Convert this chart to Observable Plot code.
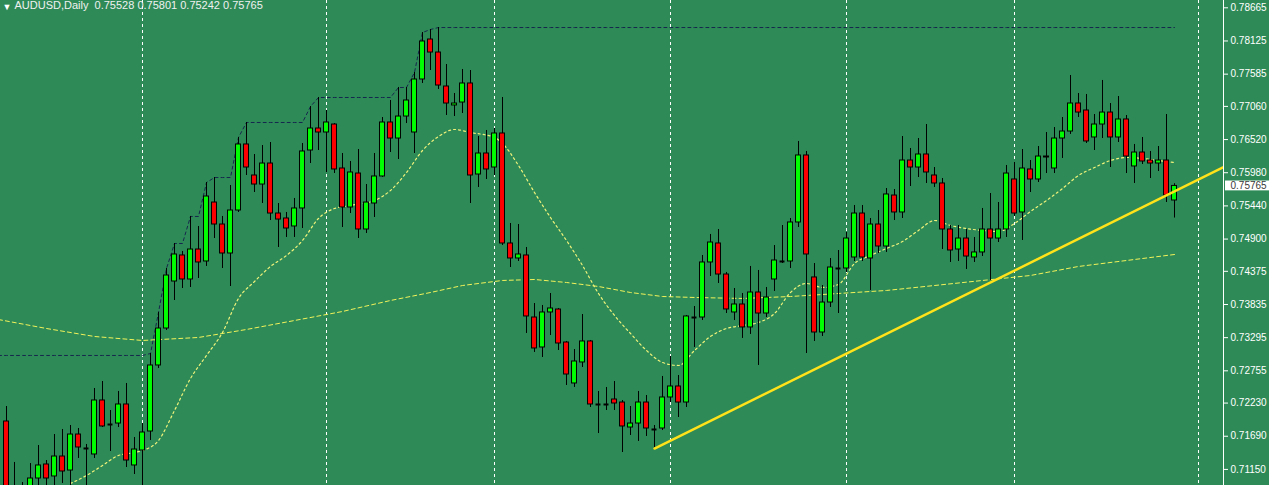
<!DOCTYPE html>
<html>
<head>
<meta charset="utf-8">
<script src="https://cdn.jsdelivr.net/npm/d3@7"></script>
<script src="https://cdn.jsdelivr.net/npm/@observablehq/plot@0.6"></script>
<style>
  html, body { margin: 0; padding: 0; background: #2e8b57; overflow: hidden; }
  svg { display: block; }
</style>
</head>
<body>
<div id="chart"></div>
<script>
// ---- Data ----
const symbolTitle = "AUDUSD,Daily";
const lastBar = [0.75528, 0.75801, 0.75242, 0.75765]; // O H L C shown in the title

const open = [
.71930,.70725,.70807,.70725,.71002,.71230,.71035,.71360,.71132,.71718,
.71491,.71393,.72272,.71881,.71897,.72207,.71214,.71458,.71767,.72842,
.73444,.74209,.74633,.74242,.74730,.74535,.75495,.75137,.74665,.75365,
.76440,.75935,.75788,.76130,.75316,.75235,.75105,.75398,.76342,.76700,
.76635,.76765,.76049,.75414,.75967,.75056,.75479,.75919,.76798,.76537,
.76895,.76635,.77498,.78149,.77937,.77384,.77075,.77123,.77433,.75951,
.76293,.76065,.76619,.74828,.74584,.74633,.73623,.73135,.73705,.73753,
.73216,.72549,.72891,.73233,.72207,.72207,.72288,.72239,.71832,.71897,
.72239,.71800,.71816,.72321,.72500,.72239,.73623,.73623,.74519,.74828,
.74323,.73705,.73835,.73461,.74030,.73688,.74242,.74535,.74535,.75170,
.76261,.74275,.73379,.73867,.74421,.74421,.74600,.75316,.74584,.75137,
.74779,.75609,.75333,.76179,.76065,.76277,.75935,.75805,.75056,.74730,
.74909,.74600,.74682,.75056,.74909,.75056,.75870,.75333,.76033,.75870,
.76244,.76049,.76537,.76651,.77107,.76993,.76554,.76765,.76960,.76554,
.76847,.76082,.76309,.76179,.76130,.76179,.75528];
const high = [
.72174,.71263,.70937,.71246,.71539,.71295,.71718,.71800,.71865,.71816,
.71556,.72467,.72581,.72109,.72419,.72549,.71670,.71897,.73037,.73705,
.74421,.74828,.74698,.75268,.75105,.75821,.75902,.75268,.75772,.76554,
.76798,.76277,.76423,.76472,.75479,.75333,.75561,.76456,.77058,.77205,
.76993,.76781,.76293,.76163,.76358,.75788,.76293,.76879,.77156,.77368,
.77368,.77612,.78263,.78312,.78344,.77742,.77270,.77661,.77644,.76570,
.76668,.76700,.77205,.75154,.75137,.74763,.73851,.73819,.74014,.73770,
.73233,.73102,.73672,.73249,.72419,.72484,.72581,.72272,.72174,.72419,
.72353,.71865,.72663,.72988,.72679,.73656,.73802,.74633,.74975,.75056,
.74356,.74095,.74014,.74454,.74389,.74112,.74795,.75121,.75235,.76489,
.76326,.74502,.74144,.74584,.74714,.75007,.75447,.75447,.75235,.75365,
.75723,.75707,.76570,.76375,.76537,.76765,.76065,.75886,.75121,.75121,
.75056,.74926,.75398,.75642,.75495,.76098,.76147,.76358,.76179,.76407,
.76635,.76716,.76879,.77563,.77270,.77254,.76928,.77482,.77107,.77221,
.76912,.76440,.76554,.76326,.76407,.76928,.75801];
const low = [
.70725,.70644,.70644,.70644,.70807,.70888,.70807,.70921,.70807,.71328,
.70807,.71328,.71832,.71442,.71832,.71181,.71067,.70807,.71621,.72793,
.73412,.73900,.74095,.74112,.74258,.74454,.74909,.74421,.74128,.75333,
.75935,.75658,.75479,.75202,.74763,.74926,.74926,.75072,.76130,.76342,
.75984,.75967,.75088,.75316,.74909,.74991,.75251,.75905,.76309,.76195,
.76781,.76293,.77433,.77644,.77335,.76912,.76895,.76944,.75479,.75740,
.75870,.75935,.74795,.74437,.74535,.73363,.73054,.72972,.73330,.73086,
.72516,.72484,.72809,.72158,.71734,.72109,.72109,.71425,.71702,.71605,
.71686,.71507,.71783,.72239,.71995,.72158,.73135,.73574,.74291,.74177,
.73688,.73574,.73282,.73347,.72842,.73623,.74047,.74502,.74421,.75088,
.73037,.73233,.73314,.73786,.73688,.74356,.74535,.74535,.74063,.74665,
.74682,.75202,.75235,.75756,.75902,.75805,.75740,.74730,.74519,.74535,
.74405,.74519,.74616,.74226,.74844,.74926,.75268,.74877,.75658,.75821,
.75967,.75967,.76212,.76603,.76879,.76456,.76342,.76537,.76065,.76472,
.75967,.75805,.76114,.75886,.76000,.75495,.75242];
const close = [
.70807,.70839,.70725,.71002,.71214,.71002,.71360,.71116,.71718,.71507,
.71491,.72272,.71849,.71881,.72207,.71295,.71474,.71751,.72842,.73444,
.74307,.74649,.74242,.74730,.74519,.75593,.75137,.74665,.75365,.76440,
.76065,.75788,.76130,.75316,.75218,.75072,.75398,.76326,.76700,.76635,
.76798,.76033,.75414,.75984,.75056,.75495,.75919,.76798,.76537,.76895,
.77156,.77498,.78117,.77937,.77400,.77107,.77107,.77433,.75935,.76293,
.76033,.76619,.74828,.74584,.74649,.73640,.73119,.73705,.73770,.73200,
.72695,.72907,.73233,.72207,.72207,.72207,.72223,.71849,.71897,.72239,
.71816,.71800,.72321,.72500,.72239,.73640,.73623,.74519,.74844,.74323,
.73754,.73835,.73461,.74030,.73688,.73949,.74551,.74535,.75170,.76261,
.74649,.73379,.73867,.74437,.74421,.74909,.75316,.74600,.75137,.74779,
.75626,.75333,.76179,.76065,.76277,.75984,.75805,.75056,.74714,.74909,
.74616,.74682,.75056,.74909,.75056,.75967,.75316,.76049,.75870,.76244,
.76228,.76537,.76651,.77107,.76960,.76489,.76765,.76960,.76554,.76847,
.76244,.76309,.76163,.76130,.76179,.75609,.75765];

// highest high before the visible window (start of the dashed upper line)
const priorHigh = 0.73005;

// fast moving average (bar index, value)
const fastIdx = [8,10,12,14,16,17,19,21,23,25,27,29,31,33,35,37,39,41,43,46,48,50,52,54,56,58,61,62,64,66,68,70,72,74,76,78,80,82,84,86,88,90,92,94,96,98,100,102,104,106,108,110,112,114,116,118,120,122,124,126,128,130,132,134,136,138,140,142,144,146];
const fastVal = [.70921,.71051,.71214,.71377,.71425,.71458,.71621,.72109,.72630,.73005,.73379,.73933,.74209,.74454,.74633,.74877,.75235,.75398,.75447,.75528,.75691,.75984,.76342,.76570,.76684,.76635,.76554,.76456,.76098,.75658,.75251,.74877,.74470,.74014,.73656,.73363,.73086,.72891,.72842,.73086,.73314,.73444,.73493,.73542,.73688,.74030,.74177,.74112,.74161,.74502,.74633,.74747,.74860,.75040,.75202,.75121,.75072,.75040,.75023,.75154,.75349,.75528,.75723,.75935,.76065,.76179,.76228,.76212,.76179,.76147];

// slow moving average (bar index, value)
const slowIdx = [-1,5,11,17,24,30,36,42,48,53,57,62,66,70,74,78,82,86,92,98,104,110,116,122,128,134,140,146];
const slowVal = [.73590,.73444,.73314,.73249,.73298,.73428,.73574,.73721,.73900,.74030,.74144,.74226,.74242,.74193,.74128,.74030,.73965,.73949,.73933,.73965,.74014,.74063,.74144,.74226,.74307,.74454,.74551,.74649];

// hand-drawn trend line anchors (bar index, price)
const trendIdx = [81, 153];
const trendVal = [0.71490, 0.76126];

// vertical grid (bar index of period separators)
const gridIdx = [17, 40, 61, 83, 105, 126, 149];

// price axis labels
const priceTicks = [0.78665,0.78125,0.77585,0.77060,0.76520,0.75980,0.75440,0.74900,0.74375,0.73835,0.73295,0.72755,0.72230,0.71690,0.71150];

// ---- Build tables ----
const bars = open.map((o, i) => ({i, o, h: high[i], l: low[i], c: close[i]}));
const bodies = bars.filter(d => Math.abs(d.c - d.o) > 0.00003);
const dojis = bars.filter(d => Math.abs(d.c - d.o) <= 0.00003);
let runMax = priorHigh;
const upper = [{i: -1, v: priorHigh}].concat(bars.map(d => { runMax = Math.max(runMax, d.h); return {i: d.i, v: runMax}; }));
const fast = fastIdx.map((i, k) => ({i, v: fastVal[k]}));
const slow = slowIdx.map((i, k) => ({i, v: slowVal[k]}));
const trend = trendIdx.map((i, k) => ({i, v: trendVal[k]}));

const xMin = -0.75, xMax = 152.125;
const font = "Liberation Sans, Arial, sans-serif";

const chart = Plot.plot({
  width: 1269,
  height: 485,
  marginLeft: 0,
  marginRight: 46,
  marginTop: 0,
  marginBottom: 0,
  style: {background: "#2e8b57", color: "white", fontFamily: font, fontSize: "10px"},
  x: {type: "linear", domain: [xMin, xMax], axis: null},
  y: {domain: [0.70888, 0.78784], axis: "right", ticks: priceTicks, tickFormat: d => d.toFixed(5), tickSize: 4, tickPadding: 3, label: null},
  marks: [
    Plot.ruleX(gridIdx, {stroke: "white", strokeDasharray: "3,3", strokeWidth: 1}),
    Plot.line(slow, {x: "i", y: "v", stroke: "#f2f25a", strokeWidth: 1, strokeDasharray: "4,3", clip: true}),
    Plot.line(fast, {x: "i", y: "v", stroke: "#f0f27a", strokeWidth: 1.2, strokeDasharray: "2,3", curve: "monotone-x", clip: true}),
    Plot.line(upper, {x: "i", y: "v", stroke: "#16264e", strokeWidth: 1, strokeDasharray: "3,3", clip: true}),
    Plot.ruleX(bars, {x: "i", y1: "l", y2: "h", stroke: "black", strokeWidth: 1}),
    Plot.rect(bodies, {x1: d => d.i - 0.31, x2: d => d.i + 0.31, y1: "o", y2: "c",
      fill: d => d.c > d.o ? "#00ff00" : "#ff0000", stroke: "black", strokeWidth: 1}),
    Plot.ruleY(dojis, {x1: d => d.i - 0.31, x2: d => d.i + 0.31, y: "o", stroke: "black", strokeWidth: 2}),
    Plot.line(trend, {x: "i", y: "v", stroke: "#ffe21a", strokeWidth: 2.5, clip: true}),
    Plot.ruleX([xMax], {stroke: "white", strokeWidth: 1}),
    Plot.rect([lastBar[3]], {x1: xMax + 0.25, x2: xMax + 6, y1: d => d - 0.0008, y2: d => d + 0.0008, fill: "white"}),
    Plot.text([lastBar[3]], {x: xMax, y: d => d, text: d => d.toFixed(5), dx: 7, textAnchor: "start", fill: "#3a3a3a", fontSize: 10}),
    Plot.text(["\u25BC"], {frameAnchor: "top-left", dx: 2, dy: 3, fill: "white", fontSize: 9}),
    Plot.text([symbolTitle + "\u00a0\u00a0" + lastBar.map(v => v.toFixed(5)).join(" ")], {frameAnchor: "top-left", dx: 14, dy: 1, fill: "#f0f0f0", textAnchor: "start", fontSize: 11})
  ]
});
document.getElementById("chart").appendChild(chart);
</script>
</body>
</html>
